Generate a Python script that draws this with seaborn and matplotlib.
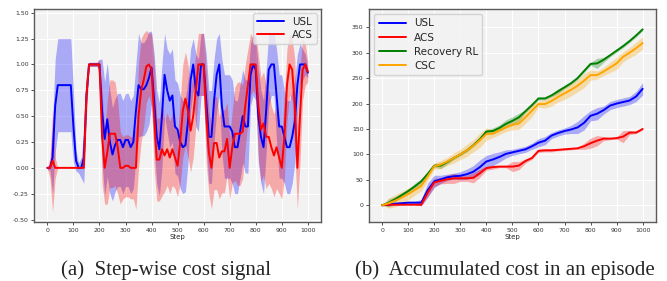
import numpy as np
import pandas as pd
import matplotlib
matplotlib.use('Agg')
import matplotlib.pyplot as plt
import seaborn as sns

# ---- (a) step-wise cost, one value every 10 steps ----
steps_a = list(range(0, 1001, 10))

usl_cost = [0, 0, 0.1, 0.6, 0.8, 0.8, 0.8, 0.8, 0.8, 0.8,
            0.4, 0.07, 0, 0, 0.1, 0.7, 1.0, 1.0, 1.0, 1.0,
            1.0, 0.55, 0.28, 0.47, 0.25, 0.13, 0.22, 0.27, 0.27, 0.2,
            0.27, 0.27, 0.2, 0.25, 0.55, 0.8, 0.76, 0.76, 0.8, 0.87,
            0.97, 0.65, 0.3, 0.18, 0.5, 0.9, 0.75, 0.65, 0.7, 0.4,
            0.37, 0.25, 0.2, 0.22, 0.45, 0.85, 1.0, 0.75, 0.7, 1.0,
            1.0, 0.65, 0.3, 0.3, 0.65, 0.9, 1.0, 0.6, 0.4, 0.4,
            0.4, 0.35, 0.2, 0.2, 0.35, 0.5, 0.4, 0.4, 0.9, 1.0,
            0.95, 0.5, 0.3, 0.2, 0.55, 0.95, 1.0, 1.0, 0.7, 0.4,
            0.4, 0.3, 0.2, 0.2, 0.3, 0.45, 0.8, 1.0, 1.0, 1.0,
            0.92]
usl_cost_sd = [0.02, 0.02, 0.35, 0.45, 0.45, 0.45, 0.45, 0.45, 0.45, 0.45,
               0.35, 0.1, 0.05, 0.1, 0.25, 0.15, 0.02, 0.02, 0.02, 0.02,
               0.05, 0.5, 0.55, 0.55, 0.5, 0.45, 0.45, 0.45, 0.45, 0.45,
               0.45, 0.45, 0.45, 0.45, 0.45, 0.5, 0.45, 0.45, 0.45, 0.45,
               0.35, 0.45, 0.45, 0.45, 0.5, 0.4, 0.4, 0.45, 0.45, 0.45,
               0.45, 0.45, 0.45, 0.45, 0.4, 0.3, 0.25, 0.35, 0.35, 0.3,
               0.3, 0.45, 0.45, 0.45, 0.4, 0.35, 0.3, 0.45, 0.5, 0.5,
               0.5, 0.5, 0.45, 0.45, 0.45, 0.45, 0.45, 0.45, 0.3, 0.3,
               0.3, 0.45, 0.45, 0.45, 0.4, 0.35, 0.3, 0.3, 0.45, 0.5,
               0.5, 0.45, 0.45, 0.45, 0.45, 0.4, 0.3, 0.2, 0.15, 0.1,
               0.05]
acs_cost = [0, 0, 0.07, 0, 0, 0, 0, 0, 0, 0,
            0, 0, 0, 0, 0, 0.7, 1.0, 1.0, 1.0, 1.0,
            1.0, 0.3, 0.0, 0.15, 0.33, 0.33, 0.33, 0.2, 0.0, 0.0,
            0.02, 0.02, 0.0, 0.0, 0.0, 0.5, 0.75, 0.85, 0.98, 1.0,
            0.95, 0.5, 0.08, 0.08, 0.18, 0.12, 0.18, 0.1, 0.18, 0.1,
            0.02, 0.25, 0.55, 0.67, 0.55, 0.36, 0.5, 0.75, 1.0, 1.0,
            1.0, 0.5, 0.15, 0.0, 0.24, 0.24, 0.1, 0.16, 0.16, 0.28,
            0.0, 0.2, 0.33, 0.33, 0.33, 0.35, 0.6, 0.8, 1.0, 1.0,
            1.0, 0.6, 0.37, 0.43, 0.3, 0.3, 0.2, 0.12, 0.2, 0.1,
            0.0, 0.3, 0.8, 1.0, 0.95, 0.6, 0.0, 0.5, 0.95, 1.0,
            0.93]
acs_cost_sd = [0.0, 0.1, 0.5, 0.1, 0, 0, 0, 0, 0, 0,
               0, 0, 0, 0, 0, 0.2, 0.02, 0.02, 0.02, 0.02,
               0.05, 0.45, 0.35, 0.5, 0.52, 0.52, 0.5, 0.45, 0.35, 0.3,
               0.3, 0.3, 0.3, 0.3, 0.4, 0.5, 0.5, 0.45, 0.35, 0.3,
               0.35, 0.5, 0.4, 0.4, 0.45, 0.35, 0.35, 0.35, 0.35, 0.3,
               0.3, 0.4, 0.45, 0.45, 0.45, 0.4, 0.4, 0.35, 0.3, 0.3,
               0.3, 0.45, 0.4, 0.4, 0.45, 0.45, 0.4, 0.4, 0.4, 0.35,
               0.3, 0.35, 0.45, 0.5, 0.5, 0.45, 0.4, 0.35, 0.3, 0.25,
               0.3, 0.5, 0.5, 0.5, 0.5, 0.45, 0.4, 0.4, 0.4, 0.35,
               0.3, 0.4, 0.35, 0.3, 0.3, 0.45, 0.4, 0.45, 0.3, 0.2,
               0.1]

# ---- (b) accumulated cost, one value every 25 steps ----
steps_b = list(range(0, 1001, 25))

usl_acc = [0, 1, 3, 4, 5, 5, 5, 30, 47, 51,
           55, 57, 58, 61, 66, 75, 86, 90, 95, 101,
           104, 107, 110, 116, 123, 127, 137, 142, 146, 149,
           153, 162, 176, 180, 187, 196, 200, 203, 206, 214,
           229]
usl_acc_sd = [0, 3, 3, 3, 3, 3, 6, 14, 12, 8,
              6, 6, 8, 10, 12, 14, 12, 12, 10, 8,
              6, 6, 6, 6, 8, 8, 6, 6, 6, 8,
              12, 14, 10, 12, 8, 8, 8, 8, 8, 10,
              12]
acs_acc = [0, 1, 1, 1, 1, 1, 1, 25, 45, 48,
           51, 53, 53, 53, 54, 63, 73, 75, 76, 76,
           76, 78, 87, 93, 107, 108, 108, 109, 110, 111,
           112, 116, 122, 127, 131, 131, 132, 135, 143, 143,
           150]
acs_acc_sd = [0, 0, 0, 0, 0, 0, 2, 8, 8, 6,
              8, 10, 6, 6, 10, 8, 4, 4, 2, 2,
              10, 8, 4, 3, 3, 3, 3, 2, 2, 2,
              2, 6, 10, 10, 4, 2, 2, 12, 4, 2,
              2]
rrl_acc = [0, 5, 12, 20, 28, 37, 47, 62, 78, 78,
           85, 93, 100, 108, 118, 130, 145, 146, 152, 160,
           166, 173, 185, 197, 210, 210, 216, 224, 232, 240,
           250, 264, 278, 279, 286, 295, 304, 313, 323, 334,
           346]
rrl_acc_sd = [0, 8, 5, 4, 4, 6, 5, 3, 3, 6,
              4, 3, 3, 3, 3, 3, 4, 6, 6, 8,
              8, 8, 3, 3, 3, 3, 3, 5, 3, 3,
              3, 3, 3, 10, 5, 3, 3, 3, 3, 3,
              3]
csc_acc = [0, 4, 9, 15, 22, 30, 38, 57, 77, 80,
           86, 93, 100, 108, 117, 128, 140, 141, 147, 153,
           158, 161, 173, 186, 199, 199, 205, 213, 220, 227,
           235, 245, 256, 256, 263, 271, 279, 292, 300, 309,
           319]
csc_acc_sd = [0, 10, 12, 12, 12, 10, 10, 8, 6, 8,
              8, 10, 10, 12, 12, 14, 12, 8, 8, 8,
              10, 12, 12, 12, 6, 8, 10, 10, 12, 12,
              12, 14, 10, 8, 8, 10, 12, 10, 10, 12,
              12]

sns.set_style('darkgrid', {'axes.facecolor': '#f2f2f2', 'grid.color': 'white',
                           'axes.edgecolor': '#5a5a5a', 'xtick.bottom': True,
                           'ytick.left': True})
plt.rcParams['font.family'] = ['DejaVu Sans']

fig = plt.figure(figsize=(6.67, 2.81), dpi=100)
ax1 = fig.add_axes([0.0515, 0.209, 0.4295, 0.759])
ax2 = fig.add_axes([0.5535, 0.209, 0.4295, 0.759])


def band(ax, x, m, sd, color):
    m = np.array(m, dtype=float)
    sd = np.array(sd, dtype=float)
    ax.fill_between(x, m - sd, m + sd, color=color, alpha=0.3, linewidth=0)


#left panel
band(ax1, steps_a, usl_cost, usl_cost_sd, 'blue')
band(ax1, steps_a, acs_cost, acs_cost_sd, 'red')
sns.lineplot(x=steps_a, y=usl_cost, color='blue', lw=1.4, label='USL', ax=ax1)
sns.lineplot(x=steps_a, y=acs_cost, color='red', lw=1.4, label='ACS', ax=ax1)
ax1.set_ylim(-0.526, 1.536)
ax1.set_yticks(np.arange(-0.5, 1.51, 0.25))
ax1.yaxis.set_major_formatter(matplotlib.ticker.FormatStrFormatter('%.2f'))

#right panel
for m, sd, c, name in [(usl_acc, usl_acc_sd, 'blue', 'USL'),
                       (acs_acc, acs_acc_sd, 'red', 'ACS'),
                       (rrl_acc, rrl_acc_sd, 'green', 'Recovery RL'),
                       (csc_acc, csc_acc_sd, 'orange', 'CSC')]:
    band(ax2, steps_b, m, sd, c)
    sns.lineplot(x=steps_b, y=m, color=c, lw=1.4, label=name, ax=ax2)
ax2.set_ylim(-33.5, 386)
ax2.set_yticks(range(0, 351, 50))

for ax in [ax1, ax2]:
    ax.set_xlim(-50, 1050)
    ax.set_xticks(range(0, 1001, 100))
    ax.set_xlabel('Step', fontsize=5, labelpad=1)
    ax.tick_params(labelsize=4.4, length=2.5, width=0.6, pad=1.5,
                   colors='#333333', direction='out')
    for s in ax.spines.values():
        s.set_visible(True)
        s.set_linewidth(1.0)
        s.set_color('#5a5a5a')
    ax.grid(True, color='white', linewidth=0.8)

ax1.legend(loc='upper right', fontsize=7.5, handlelength=2.6, borderpad=0.35,
           labelspacing=0.3, handletextpad=0.8, borderaxespad=0.4)
ax2.legend(loc='upper left', fontsize=7.5, handlelength=2.6, borderpad=0.4,
           labelspacing=0.4, handletextpad=0.8, borderaxespad=0.5)

fig.text(0.249, 0.038, '(a)  Step-wise cost signal', ha='center', va='center',
         fontsize=15, family='Liberation Serif')
fig.text(0.757, 0.038, '(b)  Accumulated cost in an episode', ha='center',
         va='center', fontsize=15, family='Liberation Serif')

plt.savefig('out.png', dpi=100)
